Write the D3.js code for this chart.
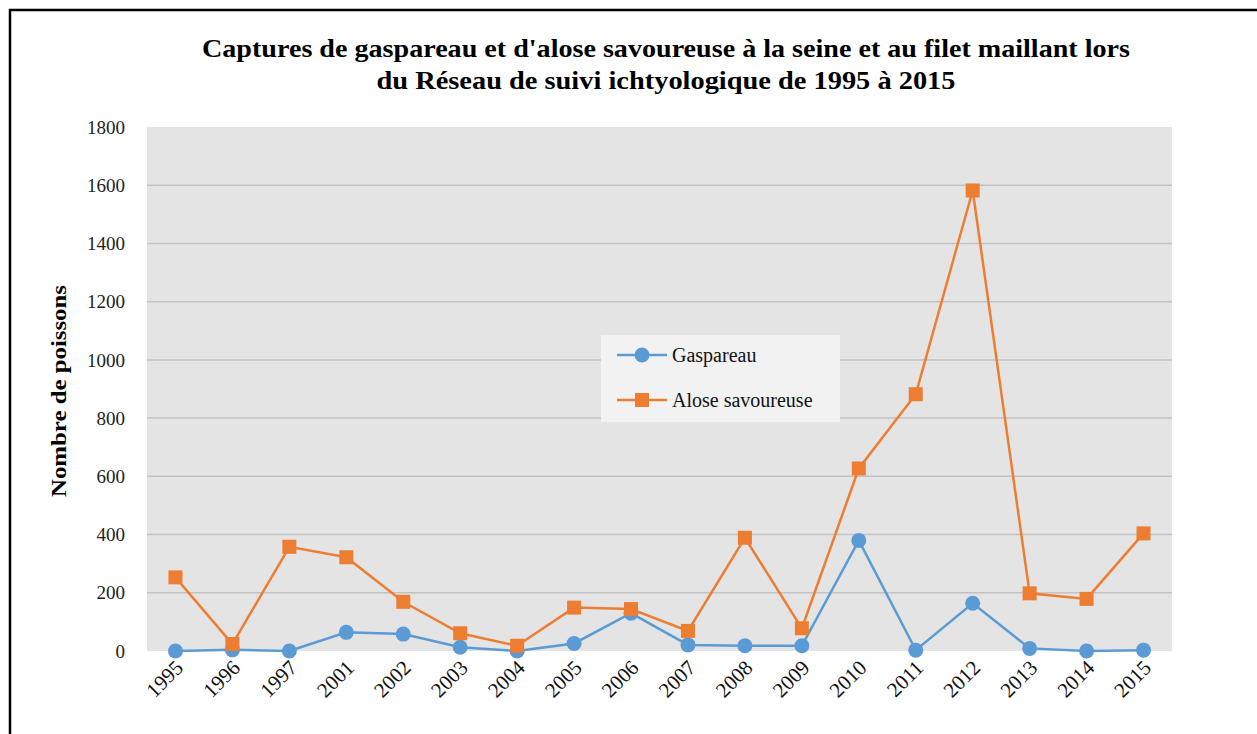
<!DOCTYPE html>
<html>
<head>
<meta charset="utf-8">
<script src="https://cdn.jsdelivr.net/npm/d3@7"></script>
<style>
  body { margin: 0; background: #fff; }
  svg { display: block; font-family: "Liberation Serif", "DejaVu Serif", serif; }
</style>
</head>
<body>
<div class="d3-container"></div>
<script>
const years = ["1995","1996","1997","2001","2002","2003","2004","2005","2006","2007","2008","2009","2010","2011","2012","2013","2014","2015"];
const gaspareau = [0, 4, 0, 64, 58, 13, 0, 26, 130, 21, 18, 18, 380, 3, 164, 9, 0, 3];
const alose = [253, 24, 358, 322, 169, 61, 18, 149, 144, 69, 389, 78, 627, 882, 1582, 198, 179, 404];
const yTicks = [0, 200, 400, 600, 800, 1000, 1200, 1400, 1600, 1800];

const width = 1257;
const height = 734;
const margin = {top: 127, bottom: 83, left: 147, right: 85};

const blue = "#5b9bd5";
const orange = "#ed7d31";

const svg = d3.select(".d3-container")
  .append("svg")
  .attr("width", width)
  .attr("height", height);

// cadre
svg.append("path")
  .attr("d", `M10,${height} V10 H${width}`)
  .attr("fill", "none")
  .attr("stroke", "#000")
  .attr("stroke-width", 2.5);

const x = d3.scaleBand()
  .domain(years)
  .range([margin.left, width - margin.right]);

const y = d3.scaleLinear()
  .domain([0, 1800])
  .range([height - margin.bottom, margin.top]);

// fond de la zone du graphique
svg.append("rect")
  .attr("x", margin.left)
  .attr("y", y(1800))
  .attr("width", x.range()[1] - margin.left)
  .attr("height", y(0) - y(1800))
  .attr("fill", "#e4e4e4");

// grille
svg.append("g")
  .selectAll("line")
  .data(yTicks.slice(1, -1))
  .join("line")
  .attr("x1", margin.left)
  .attr("x2", x.range()[1])
  .attr("y1", d => y(d))
  .attr("y2", d => y(d))
  .attr("stroke", "#c2c2c2")
  .attr("stroke-width", 1.5);

// axe Y
svg.append("g")
  .selectAll("text")
  .data(yTicks)
  .join("text")
  .attr("x", 125)
  .attr("y", d => y(d))
  .attr("dy", "0.35em")
  .attr("text-anchor", "end")
  .attr("font-size", 19)
  .attr("fill", "#222")
  .text(d => d);

// axe X
svg.append("g")
  .selectAll("text")
  .data(years)
  .join("text")
  .attr("text-anchor", "end")
  .attr("font-size", 21)
  .attr("fill", "#111")
  .attr("transform", d => `translate(${x(d) + x.bandwidth() / 2 + 9}, ${y(0) + 18}) rotate(-45)`)
  .text(d => d);

const cx = d => x(d) + x.bandwidth() / 2;

const line = d3.line()
  .x((d, i) => cx(years[i]))
  .y(d => y(d));

// Gaspareau
svg.append("path")
  .datum(gaspareau)
  .attr("fill", "none")
  .attr("stroke", blue)
  .attr("stroke-width", 2.5)
  .attr("d", line);

svg.append("g")
  .attr("fill", blue)
  .selectAll("circle")
  .data(gaspareau)
  .join("circle")
  .attr("cx", (d, i) => cx(years[i]))
  .attr("cy", d => y(d))
  .attr("r", 7.5);

// Alose savoureuse
svg.append("path")
  .datum(alose)
  .attr("fill", "none")
  .attr("stroke", orange)
  .attr("stroke-width", 2.5)
  .attr("d", line);

svg.append("g")
  .attr("fill", orange)
  .selectAll("rect")
  .data(alose)
  .join("rect")
  .attr("x", (d, i) => cx(years[i]) - 7)
  .attr("y", d => y(d) - 7)
  .attr("width", 14)
  .attr("height", 14);

// légende
const legend = svg.append("g");
legend.append("rect")
  .attr("x", 601).attr("y", 335)
  .attr("width", 239).attr("height", 87)
  .attr("fill", "#f2f2f2");

const entries = [
  {label: "Gaspareau", color: blue, shape: "circle", y: 355},
  {label: "Alose savoureuse", color: orange, shape: "square", y: 400},
];

entries.forEach(e => {
  legend.append("line")
    .attr("x1", 617).attr("x2", 667)
    .attr("y1", e.y).attr("y2", e.y)
    .attr("stroke", e.color).attr("stroke-width", 2.5);
  if (e.shape === "circle") {
    legend.append("circle").attr("cx", 642).attr("cy", e.y).attr("r", 7.5).attr("fill", e.color);
  } else {
    legend.append("rect").attr("x", 635).attr("y", e.y - 7).attr("width", 14).attr("height", 14).attr("fill", e.color);
  }
  legend.append("text")
    .attr("x", 672).attr("y", e.y)
    .attr("dy", "0.35em")
    .attr("font-size", 20)
    .attr("fill", "#111")
    .text(e.label);
});

// titre axe Y
svg.append("text")
  .attr("transform", "translate(66, 391) rotate(-90)")
  .attr("text-anchor", "middle")
  .attr("font-size", 21)
  .attr("font-weight", "bold")
  .attr("textLength", 212)
  .attr("lengthAdjust", "spacingAndGlyphs")
  .text("Nombre de poissons");

// titre
svg.append("text")
  .attr("x", 666).attr("y", 57)
  .attr("text-anchor", "middle")
  .attr("font-size", 25)
  .attr("font-weight", "bold")
  .attr("textLength", 928)
  .attr("lengthAdjust", "spacingAndGlyphs")
  .text("Captures de gaspareau et d'alose savoureuse à la seine et au filet maillant lors");

svg.append("text")
  .attr("x", 666).attr("y", 89)
  .attr("text-anchor", "middle")
  .attr("font-size", 25)
  .attr("font-weight", "bold")
  .attr("textLength", 579)
  .attr("lengthAdjust", "spacingAndGlyphs")
  .text("du Réseau de suivi ichtyologique de 1995 à 2015");
</script>
</body>
</html>
